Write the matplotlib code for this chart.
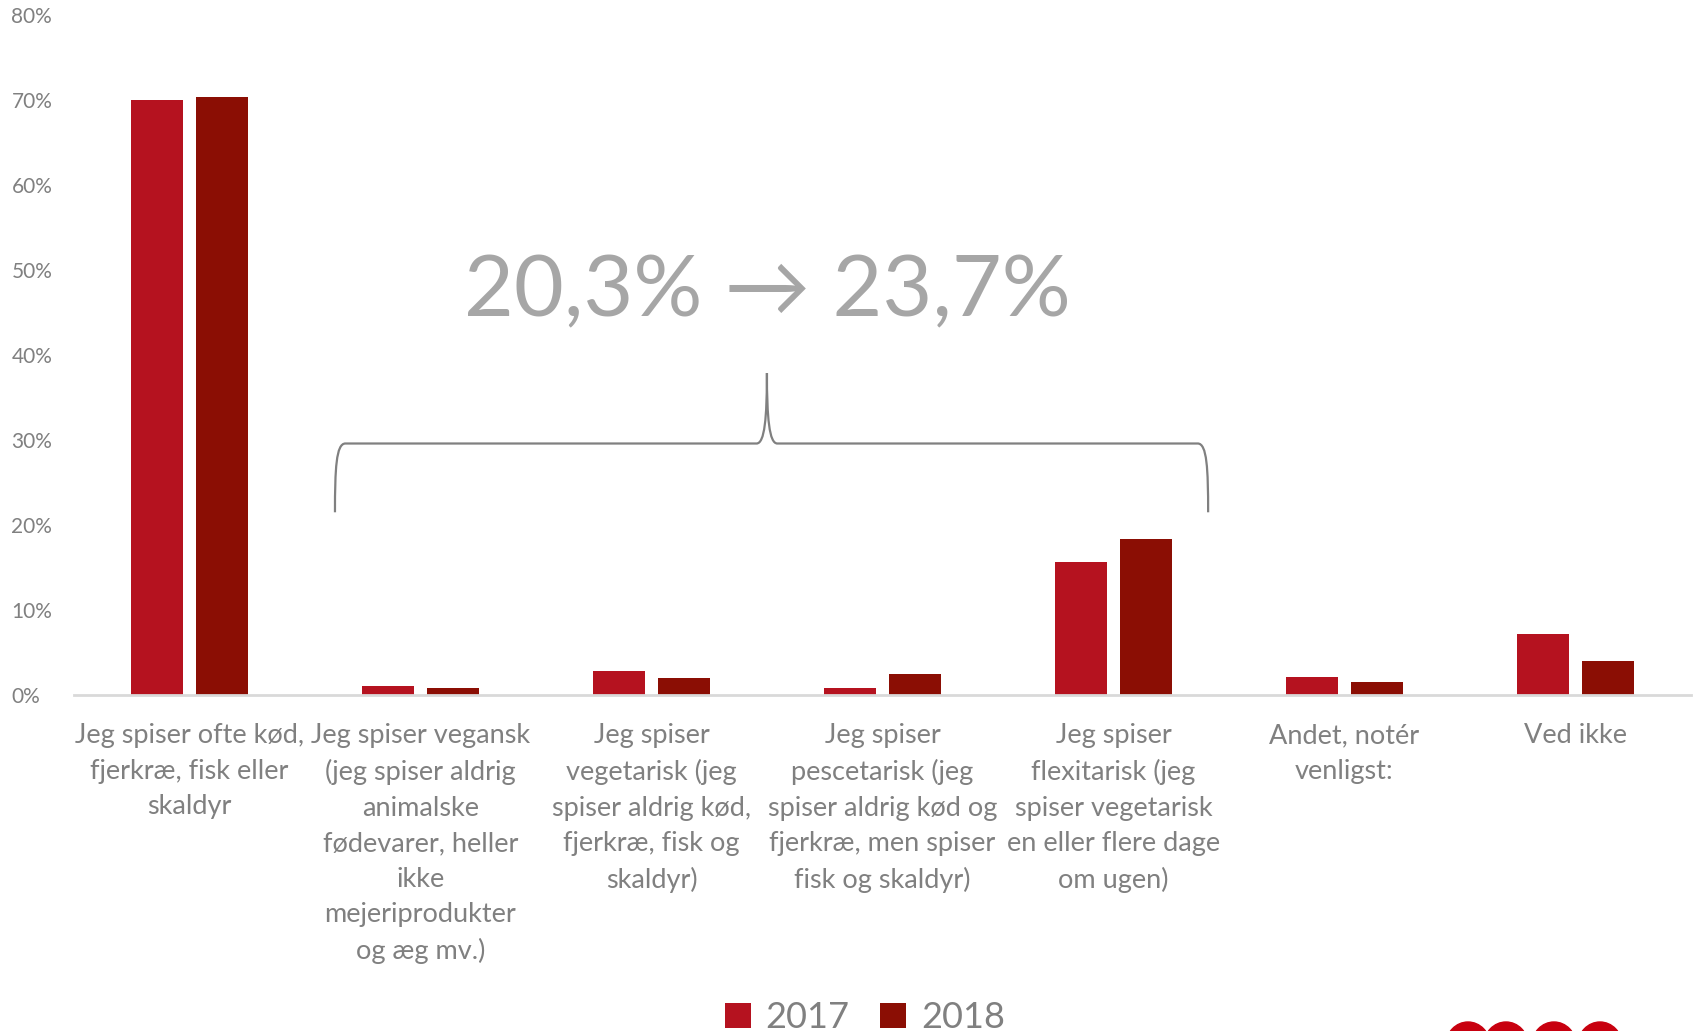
import matplotlib.pyplot as plt
from matplotlib.path import Path
from matplotlib.patches import PathPatch, Ellipse
import numpy as np

plt.rcParams['font.family'] = ['Lato', 'DejaVu Sans']

categories = [
    "Jeg spiser ofte kød,\nfjerkræ, fisk eller\nskaldyr",
    "Jeg spiser vegansk\n(jeg spiser aldrig\nanimalske\nfødevarer, heller\nikke\nmejeriprodukter\nog æg mv.)",
    "Jeg spiser\nvegetarisk (jeg\nspiser aldrig kød,\nfjerkræ, fisk og\nskaldyr)",
    "Jeg spiser\npescetarisk (jeg\nspiser aldrig kød og\nfjerkræ, men spiser\nfisk og skaldyr)",
    "Jeg spiser\nflexitarisk (jeg\nspiser vegetarisk\nen eller flere dage\nom ugen)",
    "Andet, notér\nvenligst:",
    "Ved ikke",
]
values_2017 = [70.0, 1.0, 2.8, 0.8, 15.7, 2.1, 7.2]
values_2018 = [70.4, 0.8, 2.0, 2.5, 18.4, 1.5, 4.0]
years = ["2017", "2018"]
colors = ["#b5121f", "#8b0e04"]
yticks = [0, 10, 20, 30, 40, 50, 60, 70, 80]

fig = plt.figure(figsize=(16.96, 10.31), dpi=100)
ax = fig.add_axes([0.0436, 0.326, 0.9534, 0.659])

x = np.arange(len(categories))
w = 0.225
ax.bar(x - 0.1415, values_2017, w, color=colors[0], label=years[0])
ax.bar(x + 0.1415, values_2018, w, color=colors[1], label=years[1])

ax.set_xlim(-0.5, len(categories) - 0.5)
ax.set_ylim(0, 80)
ax.set_yticks(yticks)
ax.set_yticklabels([f"{t}%" for t in yticks], fontsize=15, color="#808080", ha="left")
ax.tick_params(axis="y", length=0, pad=45)
ax.set_xticks(x)
ax.set_xticklabels(categories, fontsize=19.5, color="#808080", linespacing=1.52, va="top")
ax.tick_params(axis="x", length=0, pad=20.5)
for s in ["top", "right", "left"]:
    ax.spines[s].set_visible(False)
ax.spines["bottom"].set_color("#d9d9d9")
ax.spines["bottom"].set_linewidth(2)

# brace over the non-meat categories
xl, xr, xm = 1 - 0.37, 4 + 0.41, 2.5
yb, yh, yt = 21.5, 29.6, 37.9
dx = 0.045
verts = [
    (xl, yb), (xl, yh - 3), (xl + 0.005, yh), (xl + dx, yh),
    (xm - dx, yh),
    (xm - 0.01, yh), (xm, yh + 3), (xm, yt),
    (xm, yh + 3), (xm + 0.01, yh), (xm + dx, yh),
    (xr - dx, yh),
    (xr - 0.005, yh), (xr, yh - 3), (xr, yb),
]
codes = [Path.MOVETO, Path.CURVE4, Path.CURVE4, Path.CURVE4,
         Path.LINETO,
         Path.CURVE4, Path.CURVE4, Path.CURVE4,
         Path.CURVE4, Path.CURVE4, Path.CURVE4,
         Path.LINETO,
         Path.CURVE4, Path.CURVE4, Path.CURVE4]
ax.add_patch(PathPatch(Path(verts, codes), fill=False, edgecolor="#808080", lw=1.6))

ax.text(2.5, 47.4, "20,3% \u2192 23,7%", fontsize=62, color="#a6a6a6",
        ha="center", va="center", family=["Lato", "DejaVu Sans"])

fig.legend(loc="center", bbox_to_anchor=(0.51, 0.013), ncol=2, frameon=False,
           fontsize=26, labelcolor="#808080", handlelength=0.72, handleheight=0.72,
           handletextpad=0.4, columnspacing=0.85)

# logo peeking at the bottom edge
for cx in [1468, 1506, 1554, 1600]:
    fig.patches.append(Ellipse((cx, -14), 44, 46, transform=None,
                               color="#c8000f"))

fig.savefig("out.png", dpi=100)
